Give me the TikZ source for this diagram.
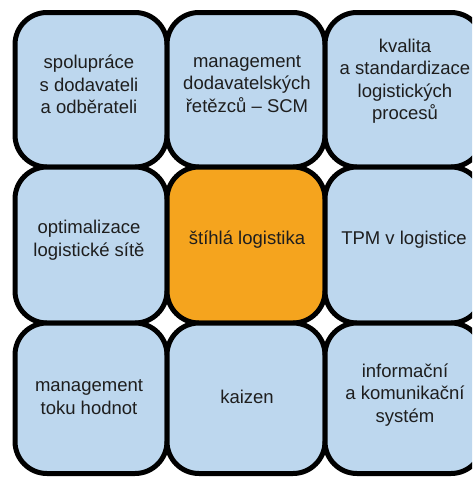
\documentclass[tikz,border=0pt]{standalone}
\usepackage{fontspec}
\setmainfont{Liberation Sans}
\definecolor{boxblue}{RGB}{189,215,238}
\definecolor{boxorange}{RGB}{245,164,30}
\definecolor{txtgrey}{RGB}{30,30,30}
\begin{document}
\begin{tikzpicture}[x=1pt,y=-1pt,
  tile/.style={draw=black, line width=5pt, rounded corners=32pt, fill=boxblue, inner sep=0pt},
  hub/.style={tile, fill=boxorange},
  lbl/.style={align=center, text=txtgrey, font=\fontsize{18.5}{22.5}\selectfont, inner sep=0pt}]
\useasboundingbox (0,0) rectangle (472,477);
\clip (0,0) rectangle (472,477);
% row 1
\node[tile, minimum width=152pt, minimum height=154.5pt] (b1) at (91,89.75) {};
\node[tile, minimum width=158pt, minimum height=154.5pt] (b2) at (246,89.75) {};
\node[tile, minimum width=158pt, minimum height=154.5pt] (b3) at (404,89.75) {};
% row 2
\node[tile, minimum width=152pt, minimum height=156pt] (b4) at (91,245) {};
\node[hub,  minimum width=158pt, minimum height=156pt] (b5) at (246,245) {};
\node[tile, minimum width=158pt, minimum height=156pt] (b6) at (404,245) {};
% row 3
\node[tile, minimum width=152pt, minimum height=150.5pt] (b7) at (91,398.25) {};
\node[tile, minimum width=158pt, minimum height=150.5pt] (b8) at (246,398.25) {};
\node[tile, minimum width=158pt, minimum height=150.5pt] (b9) at (404,398.25) {};
% labels
\node[lbl] (t1) at (89,84.5) {spolupráce\\s dodavateli\\a odběrateli};
\node[lbl] (t2) at (247,84) {management\\dodavatelských\\řetězců – SCM};
\node[lbl] (t3) at (405,81) {kvalita\\a standardizace\\logistických\\procesů};
\node[lbl] (t4) at (89,240) {optimalizace\\logistické sítě};
\node[lbl] (t5) at (247,240) {štíhlá logistika};
\node[lbl] (t6) at (404,240) {TPM v logistice};
\node[lbl] (t7) at (89,397) {management\\toku hodnot};
\node[lbl] (t8) at (247,397) {kaizen};
\node[lbl] (t9) at (405,395) {informační\\a komunikační\\systém};
\end{tikzpicture}
\end{document}
